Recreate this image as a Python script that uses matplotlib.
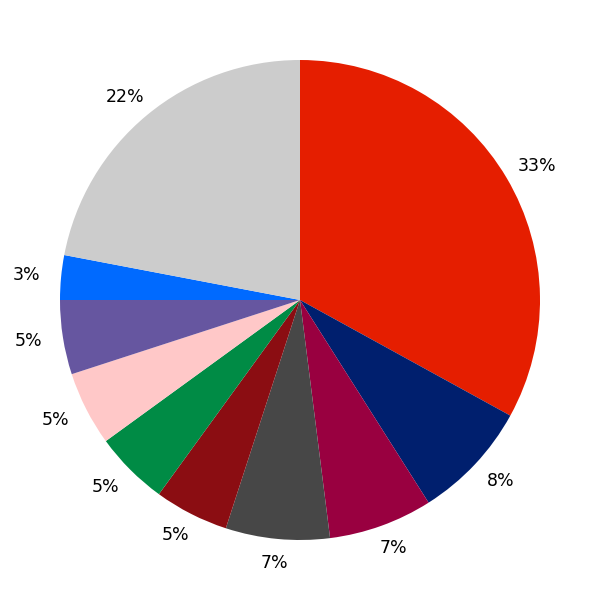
import matplotlib
matplotlib.use('Agg')
import numpy as np
import matplotlib.pyplot as plt

values = [33, 8, 7, 7, 5, 5, 5, 5, 3, 22]
colors = ['#E51E00', '#001F6E', '#990040', '#474747', '#8B0D12',
          '#008B45', '#FFC8C8', '#6656A0', '#006AFF', '#CCCCCC']

fig = plt.figure(figsize=(6, 6), dpi=100)
ax = fig.add_axes([0, 0, 1, 1])
wedges, _ = ax.pie(values, colors=colors, startangle=90, counterclock=False)

# percentage labels just outside each wedge
for w, v in zip(wedges, values):
    ang = np.deg2rad((w.theta1 + w.theta2) / 2)
    ax.text(1.145 * np.cos(ang), 1.1 * np.sin(ang), f'{v}%',
            ha='center', va='center', fontsize=12.5, color='black')

ax.set_aspect('equal')
fig.savefig('out.png', dpi=100)
